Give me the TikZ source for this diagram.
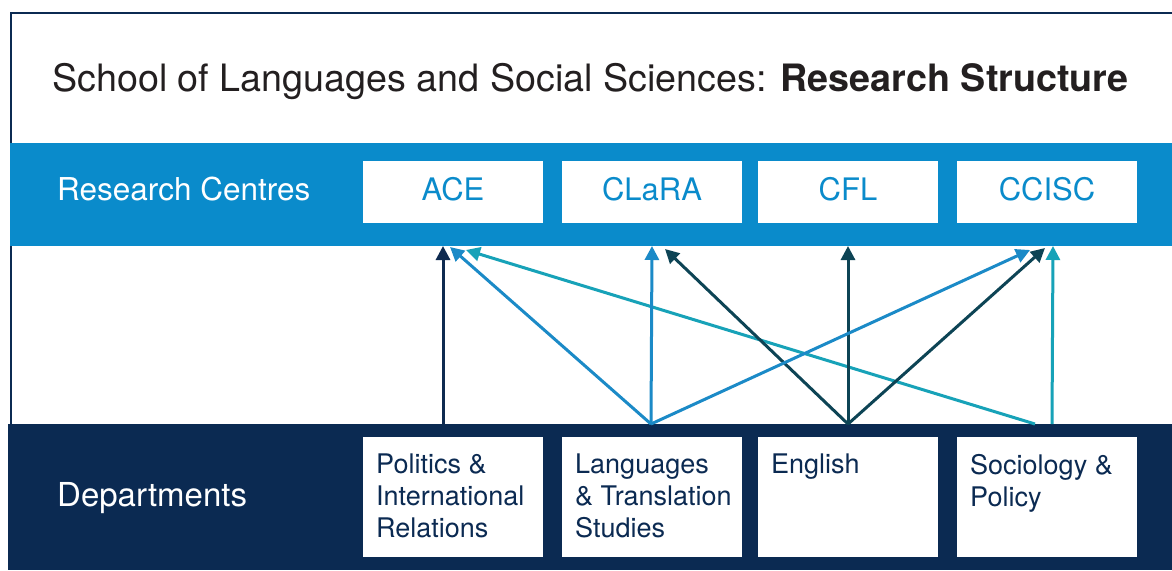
\documentclass[tikz,border=0pt]{standalone}
\usepackage{fontspec}
\setmainfont{TeX Gyre Heros}
\usepackage{tikz}
\usetikzlibrary{arrows.meta}

\definecolor{FrameNavy}{HTML}{0B2A52}
\definecolor{CentreBlue}{HTML}{0A8BCB}
\definecolor{TitleInk}{HTML}{231F20}
\definecolor{PolNavy}{HTML}{0E2A50}
\definecolor{LangBlue}{HTML}{1B8AC7}
\definecolor{EngSlate}{HTML}{0D4455}
\definecolor{SocTeal}{HTML}{17A2B8}

\begin{document}
\begin{tikzpicture}[x=1pt, y=-1pt,
  band/.style={inner sep=0pt, outer sep=0pt, anchor=north west},
  bandlabel/.style={anchor=base west, inner sep=0pt, text=white},
  centrebox/.style={fill=white, minimum width=180pt, minimum height=62pt, inner sep=0pt, outer sep=0pt, text depth=7pt, text=CentreBlue, font=\fontsize{31}{36}\selectfont},
  deptbox/.style={fill=white, minimum width=180pt, minimum height=120pt, inner sep=0pt, outer sep=0pt, anchor=north west},
  depttext/.style={anchor=north west, align=left, inner xsep=13pt, inner ysep=17pt, text=FrameNavy, font=\fontsize{27}{32}\selectfont},
  link/.style={line width=3pt, -{Triangle[length=14pt,width=14pt]}}]
\useasboundingbox (0,0) rectangle (1172,570);
\fill[white] (0,0) rectangle (1172,570);

% frame and bands
\draw[FrameNavy, line width=2.5pt] (11,424) -- (11,13) -- (1172,13);
\node[band, fill=CentreBlue, minimum width=1162pt, minimum height=103pt] (centreband) at (10,143) {};
\node[band, fill=FrameNavy, minimum width=1164pt, minimum height=146pt] (deptband) at (8,424) {};

% title
\node[anchor=base west, inner sep=0pt, text=TitleInk, font=\fontsize{37.7}{44}\selectfont] (title) at (52,91)
  {School of Languages and Social Sciences: \textbf{Research Structure}};

% research centres
\node[bandlabel, font=\fontsize{31.5}{36}\selectfont] (centrelabel) at (57,200) {Research Centres};
\node[centrebox] (ace) at (453,192) {ACE};
\node[centrebox] (clara) at (652,192) {CLaRA};
\node[centrebox] (cfl) at (848,192) {CFL};
\node[centrebox] (ccisc) at (1047,192) {CCISC};

% departments
\node[bandlabel, font=\fontsize{33}{38}\selectfont] (deptlabel) at (57,506) {Departments};
\node[deptbox] (pol) at (363,437) {};
\node[deptbox] (lang) at (562,437) {};
\node[deptbox] (eng) at (758,437) {};
\node[deptbox] (soc) at (957,437) {};
\node[depttext] (pol-txt) at (pol.north west) {Politics \&\\International\\Relations};
\node[depttext] (lang-txt) at (lang.north west) {Languages\\\& Translation\\Studies};
\node[depttext] (eng-txt) at (eng.north west) {English};
\node[depttext] (soc-txt) at (soc.north west) {Sociology \&\\Policy};

% where the links leave and arrive
\coordinate (pol-s) at ([xshift=-10pt]pol.north |- deptband.north);
\coordinate (lang-s) at ([xshift=-1pt]lang.north |- deptband.north);
\coordinate (eng-s) at (eng.north |- deptband.north);
\coordinate (soc-s) at ([xshift=5pt]soc.north |- deptband.north);
\coordinate (soc-s2) at ([xshift=-12pt]soc.north |- deptband.north);
\coordinate (ace-a) at ([xshift=-10pt]ace.south |- centreband.south);
\coordinate (ace-b) at ([xshift=-3pt,yshift=-1pt]ace.south |- centreband.south);
\coordinate (ace-c) at ([xshift=13pt,yshift=-4pt]ace.south |- centreband.south);
\coordinate (clara-a) at (clara.south |- centreband.south);
\coordinate (clara-b) at ([xshift=13pt,yshift=-3pt]clara.south |- centreband.south);
\coordinate (cfl-a) at (cfl.south |- centreband.south);
\coordinate (ccisc-a) at ([xshift=-17pt,yshift=-4pt]ccisc.south |- centreband.south);
\coordinate (ccisc-b) at ([xshift=-2pt,yshift=-2pt]ccisc.south |- centreband.south);
\coordinate (ccisc-c) at ([xshift=6pt]ccisc.south |- centreband.south);

% links
\draw[link, PolNavy] (pol-s) -- (ace-a);
\draw[link, LangBlue] (lang-s) -- (ace-b);
\draw[link, SocTeal] (soc-s2) -- (ace-c);
\draw[link, LangBlue] (lang-s) -- (clara-a);
\draw[link, EngSlate] (eng-s) -- (clara-b);
\draw[link, EngSlate] (eng-s) -- (cfl-a);
\draw[link, LangBlue] (lang-s) -- (ccisc-a);
\draw[link, SocTeal] (soc-s) -- (ccisc-c);
\draw[link, EngSlate] (eng-s) -- (ccisc-b);
\end{tikzpicture}
\end{document}
